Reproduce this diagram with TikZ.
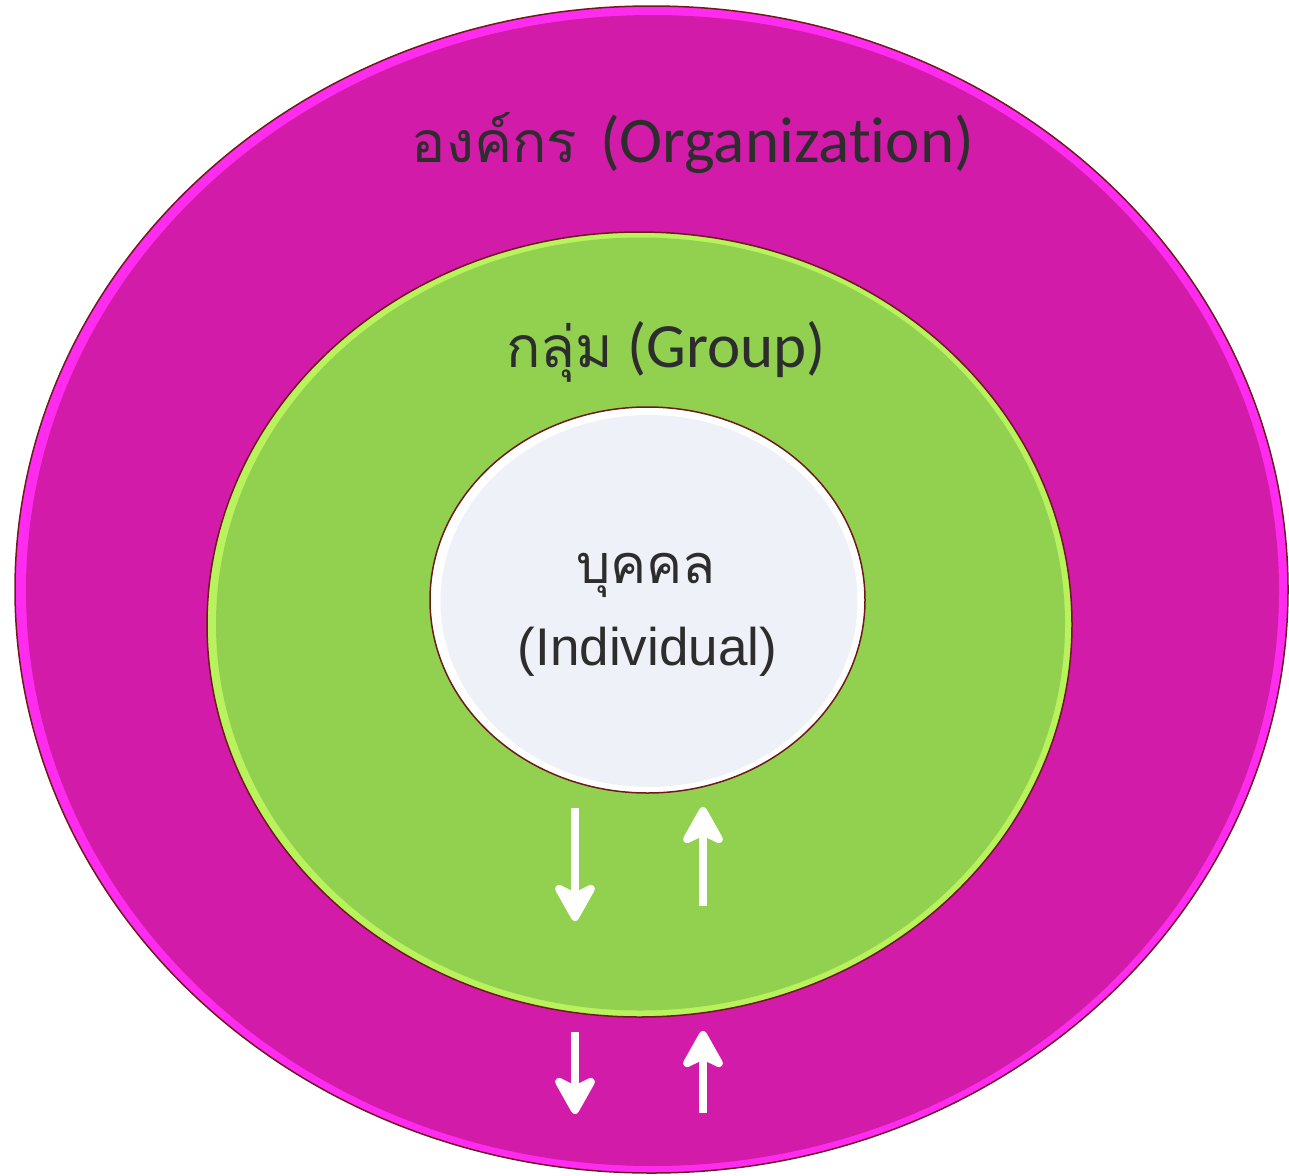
\documentclass[tikz,border=0pt]{standalone}
\usepackage{fontspec}
\usetikzlibrary{shapes.geometric,arrows.meta}
\setmainfont[Ligatures=NoCommon,RawFeature={-liga;-calt;-dlig}]{Carlito}
\newfontfamily\thaifont[Script=Thai]{Loma}
\newfontfamily\arialfont{Liberation Sans}
\definecolor{magmain}{HTML}{D31BAA}
\definecolor{magrim}{HTML}{FF2CF0}
\definecolor{edgecol}{HTML}{6E1A1A}
\definecolor{grnmain}{HTML}{92D050}
\definecolor{grnrim}{HTML}{B8F25C}
\definecolor{indmain}{HTML}{EEF1F7}
\definecolor{txtcol}{HTML}{2D2D2D}
\tikzset{
  ring/.style={ellipse, inner sep=0pt, outer sep=0pt, draw=edgecol, line width=1.5pt},
  core/.style={ellipse, inner sep=0pt, outer sep=0pt},
  lbl/.style={text=txtcol, inner sep=0pt, anchor=base},
  flow/.style={draw=white, line width=8pt, -{Stealth[length=45pt,width=50pt,inset=12pt,round]}},
}
\begin{document}
\begin{tikzpicture}[x=1pt,y=-1pt]
\useasboundingbox (0,0) rectangle (1289,1175);
% organization
\node[ring, fill=magrim, minimum width=1273pt, minimum height=1167pt] (org) at (651.5,589.5) {};
\node[core, fill=magmain, minimum width=1253pt, minimum height=1151pt] (orgc) at (652.5,590.5) {};
% group
\node[ring, fill=grnrim, minimum width=865pt, minimum height=785pt] (grp) at (639.5,624.5) {};
\node[core, fill=grnmain, minimum width=849pt, minimum height=773pt] (grpc) at (640.5,624) {};
% individual
\node[ring, fill=white, minimum width=435pt, minimum height=386pt] (ind) at (647.5,600) {};
\node[core, fill=indmain, minimum width=417pt, minimum height=372pt] (indc) at (649,601) {};
% labels
\node[lbl] (torg) at (693,162) {\fontsize{65}{70}\selectfont{\thaifont\fontsize{57}{60}\selectfont องค์กร}\hspace{0.35em}(Organizat\kern0pt ion)};
\node[lbl] (tgrp) at (666,367) {\fontsize{63}{68}\selectfont{\thaifont\fontsize{57}{60}\selectfont กลุ่ม} (Group)};
\node[lbl] (tind1) at (646,583) {\fontsize{54}{60}\selectfont\thaifont บุคคล};
\node[lbl] (tind2) at (647.5,665) {\fontsize{53}{58}\selectfont\arialfont (Individual)};
% arrows
\coordinate (a1s) at (575,808); \coordinate (a1e) at (575,921);
\coordinate (a2s) at (703,906); \coordinate (a2e) at (703,807);
\coordinate (a3s) at (575,1032); \coordinate (a3e) at (575,1114);
\coordinate (a4s) at (703,1113); \coordinate (a4e) at (703,1031);
\draw[flow] (a1s) -- (a1e);
\draw[flow] (a2s) -- (a2e);
\draw[flow] (a3s) -- (a3e);
\draw[flow] (a4s) -- (a4e);
\end{tikzpicture}
\end{document}
